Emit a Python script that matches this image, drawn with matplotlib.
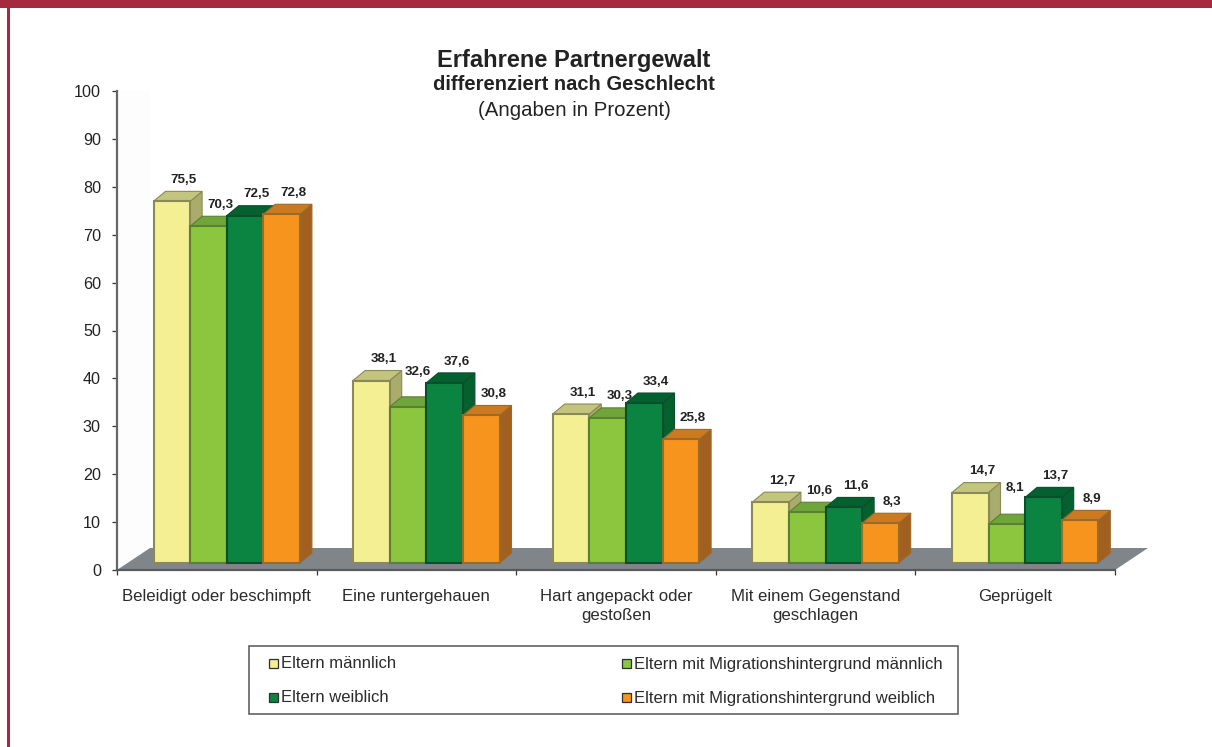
import matplotlib
matplotlib.use("Agg")
import matplotlib.pyplot as plt
from matplotlib.patches import Polygon, Rectangle
import numpy as np

categories = ["Beleidigt oder beschimpft", "Eine runtergehauen", "Hart angepackt oder\ngestoßen",
              "Mit einem Gegenstand\ngeschlagen", "Geprügelt"]
series_names = ["Eltern männlich", "Eltern mit Migrationshintergrund männlich",
                "Eltern weiblich", "Eltern mit Migrationshintergrund weiblich"]
eltern_m = [75.5, 38.1, 31.1, 12.7, 14.7]
migration_m = [70.3, 32.6, 30.3, 10.6, 8.1]
eltern_w = [72.5, 37.6, 33.4, 11.6, 13.7]
migration_w = [72.8, 30.8, 25.8, 8.3, 8.9]
series = [eltern_m, migration_m, eltern_w, migration_w]
yticks = list(range(0, 101, 10))

front = ["#f3ef92", "#8cc63f", "#0b8441", "#f7941e"]
top = ["#c3c47e", "#6fa53a", "#04602f", "#cc7a20"]
side = ["#aaac6c", "#5f8c34", "#04602f", "#a1601f"]
edge = ["#8a8a58", "#5d7f35", "#0a4f2c", "#9a6a2a"]

# label nudges in pixels, for labels moved clear of a neighbouring bar
nudge = {(1, 1): (-2, 13), (4, 1): (-4, 15)}

W, H = 1212, 747
plt.rcParams["font.family"] = ["Liberation Sans", "DejaVu Sans"]
fig = plt.figure(figsize=(W / 100, H / 100), dpi=100, facecolor="white")
ax = fig.add_axes([117 / W, (H - 570) / H, (1115 - 117) / W, (570 - 91) / H])
ax.set_xlim(0, 5)
ax.set_ylim(0, 100)
ax.patch.set_alpha(0)

sx = 998 / 5   # px per category
sy = 479 / 100  # px per percent
bar_w = 36.6 / sx
group_off = 36.5 / sx
base = 7 / sy
dx, dy = 12 / sx, 10 / sy

# Border
fig.add_artist(Rectangle((0, 1 - 8 / H), 1, 8 / H, transform=fig.transFigure, fc="#a52a3f", ec="none"))
fig.add_artist(Rectangle((7 / W, 0), 3 / W, 1, transform=fig.transFigure, fc="#a52a3f", ec="none"))

# Walls and floor
wx, wy = 33 / sx, 22 / sy
ax.add_patch(Polygon([(0, 0), (wx, wy), (wx, 100), (0, 100)], fc="#fdfdfe", ec="none", clip_on=False, zorder=0))
ax.add_patch(Polygon([(0, 0), (5, 0), (5 + wx, wy), (wx, wy)], fc="#80858a", ec="none", clip_on=False, zorder=1))

# Bars
for g in range(len(categories)):
    for s, vals in enumerate(series):
        v = vals[g]
        x0 = g + group_off + s * bar_w
        x1 = x0 + bar_w
        t = base + v
        z = 2 + g * 4 + s
        ax.add_patch(Polygon([(x1, base), (x1 + dx, base + dy), (x1 + dx, t + dy), (x1, t)],
                             fc=side[s], ec=edge[s], lw=0.8, clip_on=False, zorder=z))
        ax.add_patch(Polygon([(x0, t), (x1, t), (x1 + dx, t + dy), (x0 + dx, t + dy)],
                             fc=top[s], ec=edge[s], lw=0.8, clip_on=False, zorder=z))
        ax.bar(x0, v, width=bar_w, bottom=base, align="edge", color=front[s], ec=edge[s], lw=1.5,
               clip_on=False, zorder=z)
        nx, ny = nudge.get((g, s), (0, 0))
        ax.annotate(f"{v:.1f}".replace(".", ","), (x0 + bar_w / 2 + dx, t + dy),
                    xytext=(nx * 0.72, 8.2 + ny * 0.72),
                    textcoords="offset points", ha="center", va="center", fontsize=9.6,
                    fontweight="bold", color="#222222", zorder=50)

# Axes
for sp in ("top", "right"):
    ax.spines[sp].set_visible(False)
ax.spines["left"].set_color("#666666")
ax.spines["left"].set_linewidth(1.6)
ax.spines["bottom"].set_color("#5a5a5a")
ax.spines["bottom"].set_linewidth(1.6)
ax.spines["left"].set_zorder(40)
ax.spines["bottom"].set_zorder(40)
ax.set_yticks(yticks)
ax.set_yticklabels([str(t) for t in yticks], fontsize=11.6, color="#222222")
ax.set_xticks(range(6))
ax.set_xticklabels([])
ax.tick_params(axis="both", length=3.6, width=0.9, color="#333333", pad=8)
for i, c in enumerate(categories):
    ax.annotate(c, (i + 0.5, 0), xytext=(0, -14), textcoords="offset points", ha="center", va="top",
                fontsize=12.1, color="#2b2b2b", linespacing=1.33, annotation_clip=False)

# Title
fig.text(574 / W, 1 - 60 / H, "Erfahrene Partnergewalt", ha="center", va="center", fontsize=17,
         fontweight="bold", color="#222222")
fig.text(574 / W, 1 - 85 / H, "differenziert nach Geschlecht", ha="center", va="center", fontsize=14.5,
         fontweight="bold", color="#222222")
fig.text(574 / W, 1 - 110 / H, "(Angaben in Prozent)", ha="center", va="center", fontsize=14.7,
         color="#222222")

# Legend
fig.add_artist(Rectangle((249 / W, 1 - 714 / H), 709 / W, 68 / H, transform=fig.transFigure,
                         fc="white", ec="#555555", lw=1.1))
legend_pos = [(269, 663), (622, 663), (269, 697), (622, 697)]
for (lx, ly), name, c in zip(legend_pos, series_names, front):
    fig.add_artist(Rectangle((lx / W, 1 - (ly + 4.5) / H), 9 / W, 9 / H, transform=fig.transFigure,
                             fc=c, ec="#2f2f2f", lw=0.9))
    fig.text((lx + 12) / W, 1 - (ly + 1) / H, name, ha="left", va="center", fontsize=12, color="#2b2b2b")

fig.savefig("out.png", dpi=100, facecolor="white")
